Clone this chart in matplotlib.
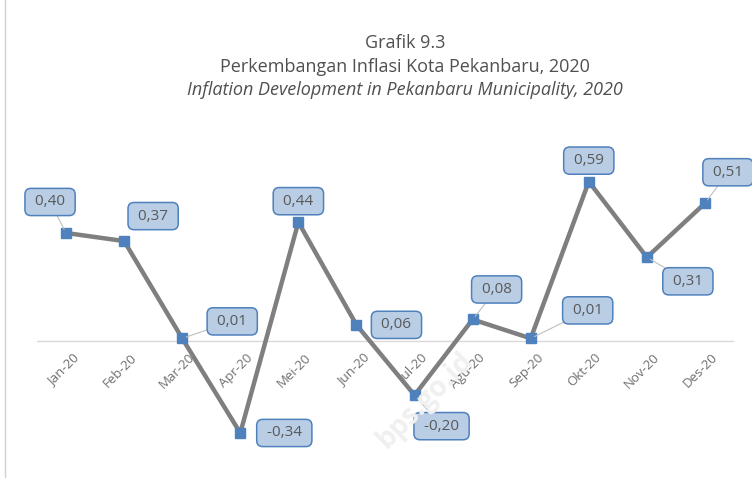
import matplotlib.pyplot as plt
from matplotlib.patches import Rectangle

# data
months = ['Jan-20', 'Feb-20', 'Mar-20', 'Apr-20', 'Mei-20', 'Jun-20',
          'Jul-20', 'Agu-20', 'Sep-20', 'Okt-20', 'Nov-20', 'Des-20']
inflasi = [0.40, 0.37, 0.01, -0.34, 0.44, 0.06,
           -0.20, 0.08, 0.01, 0.59, 0.31, 0.51]

# label offsets in pixels (dx, dy up) and whether a leader line is drawn
lblOffsets = [(-16, 31), (29, 25), (50, 17), (44, 0), (0, 21), (40, 0),
              (27, -31), (24, 30), (57, 28), (0, 21), (41, -24), (23, 31)]
leader = [True, False, True, False, False, False,
          True, True, True, False, True, True]

txtColor = '#595959'
plt.rcParams['font.family'] = ['Open Sans', 'DejaVu Sans']

fig = plt.figure(figsize=(7.52, 4.78), dpi=100)
fig.patches.append(Rectangle((0.007, -0.01), 1.2, 1.2, transform=fig.transFigure,
                             fill=False, edgecolor='#d0d0d0', lw=1))

ax = fig.add_axes([37 / 752, 1 - 460 / 478, 697 / 752, 310 / 478])
x = range(len(months))
ax.plot(x, inflasi, color='#7f7f7f', lw=3.2, marker='s', markersize=7,
        markerfacecolor='#4f81bd', markeredgecolor='#4f81bd', zorder=3)
ax.axhline(0, color='#d9d9d9', lw=1, zorder=1)
ax.set_xlim(-0.5, 11.5)
ax.set_ylim(-0.44, 0.707)
ax.axis('off')

# watermark
fig.text(425 / 752, 1 - 400 / 478, 'bps.go.id', rotation=45,
         ha='center', va='center', fontsize=20, fontweight='bold',
         color='#f0f0f0', zorder=0)

# category labels sit on the zero line, rotated
for i, m in enumerate(months):
    ax.annotate(m, (i, 0), xytext=(6, -10), textcoords='offset pixels',
                rotation=45, ha='right', va='top', rotation_mode='anchor',
                fontsize=9.5, color='#6f6f6f', zorder=2)

# data labels
for i, v in enumerate(inflasi):
    dx, dy = lblOffsets[i]
    arrow = dict(arrowstyle='-', color='#bfbfbf', lw=0.8, shrinkA=0, shrinkB=3) if leader[i] else None
    ax.annotate(' ' + '{:.2f}'.format(v).replace('.', ',') + ' ', (i, v), xytext=(dx, dy),
                textcoords='offset pixels', ha='center', va='center',
                fontsize=11, color=txtColor, zorder=4, arrowprops=arrow,
                bbox=dict(boxstyle='round,pad=0.4,rounding_size=0.4',
                          fc='#b9cde5', ec='#4f81bd', lw=1.1))

# titles
titleColor = '#505050'
fig.text(405 / 752, 1 - 43 / 478, 'Grafik 9.3', ha='center', va='center',
         fontsize=13, color=titleColor)
fig.text(405 / 752, 1 - 67 / 478, 'Perkembangan Inflasi Kota Pekanbaru, 2020',
         ha='center', va='center', fontsize=13, color=titleColor)
fig.text(405 / 752, 1 - 90 / 478, 'Inflation Development in Pekanbaru Municipality, 2020',
         ha='center', va='center', fontsize=13, color=titleColor,
         fontstyle='italic')

fig.savefig('out.png', dpi=100)
